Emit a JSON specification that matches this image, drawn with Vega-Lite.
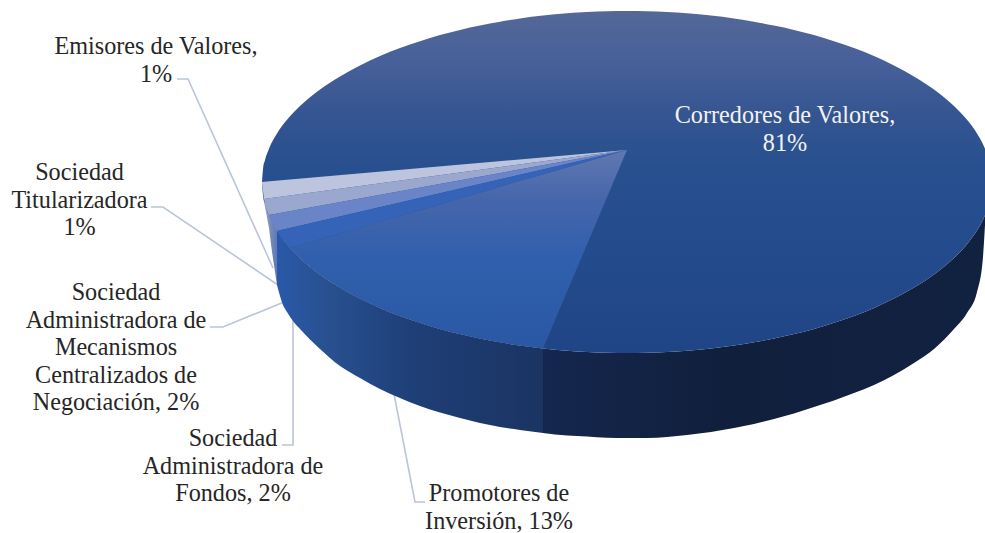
{"$schema":"https://vega.github.io/schema/vega-lite/v6.json","width":985,"height":533,"padding":0,"autosize":{"type":"none"},"background":"white","view":{"stroke":null},
"datasets":{
"leaders":[
{"k":"Emisores","seq":1,"x":177,"y":79},{"k":"Emisores","seq":2,"x":188,"y":79},{"k":"Emisores","seq":3,"x":273,"y":268},
{"k":"Titularizadora","seq":1,"x":151,"y":207},{"k":"Titularizadora","seq":2,"x":163,"y":207},{"k":"Titularizadora","seq":3,"x":278,"y":285},
{"k":"Mecanismos","seq":1,"x":210,"y":327},{"k":"Mecanismos","seq":2,"x":223,"y":327},{"k":"Mecanismos","seq":3,"x":284,"y":302},
{"k":"Fondos","seq":1,"x":282,"y":445},{"k":"Fondos","seq":2,"x":293,"y":445},{"k":"Fondos","seq":3,"x":293,"y":320},
{"k":"Promotores","seq":1,"x":425,"y":502},{"k":"Promotores","seq":2,"x":415,"y":502},{"k":"Promotores","seq":3,"x":394,"y":394}],
"walls":[
{"p":"sliver","x":262,"y":182,"y2":184},{"p":"sliver","x":263,"y":194.7,"y2":197},{"p":"sliver","x":265,"y":203.9,"y2":207},{"p":"sliver","x":269,"y":215.3,"y2":228},{"p":"sliver","x":272,"y":221.8,"y2":252},{"p":"sliver","x":277,"y":230.5,"y2":285},
{"p":"left","x":277,"y":230.5,"y2":285},{"p":"left","x":283,"y":239.2,"y2":305},{"p":"left","x":287,"y":244.2,"y2":312},{"p":"left","x":293,"y":251,"y2":321},{"p":"left","x":300,"y":258,"y2":329},{"p":"left","x":320,"y":274.5,"y2":349},{"p":"left","x":340,"y":287.6,"y2":366},{"p":"left","x":360,"y":298.6,"y2":378},{"p":"left","x":380,"y":307.9,"y2":389},{"p":"left","x":400,"y":315.9,"y2":398},{"p":"left","x":420,"y":322.8,"y2":406},{"p":"left","x":440,"y":328.9,"y2":412.5},{"p":"left","x":460,"y":334.1,"y2":418},{"p":"left","x":480,"y":338.5,"y2":423},{"p":"left","x":500,"y":342.3,"y2":427},{"p":"left","x":520,"y":345.5,"y2":430},{"p":"left","x":543,"y":348.4,"y2":433},
{"p":"right","x":543,"y":348.4,"y2":433},{"p":"right","x":567,"y":350.7,"y2":435.5},{"p":"right","x":587,"y":352,"y2":436.5},{"p":"right","x":607,"y":352.7,"y2":437.7},{"p":"right","x":627,"y":353,"y2":438},{"p":"right","x":647,"y":352.7,"y2":438},{"p":"right","x":667,"y":352,"y2":437},{"p":"right","x":687,"y":350.7,"y2":435},{"p":"right","x":711,"y":348.4,"y2":432},{"p":"right","x":734,"y":345.5,"y2":428},{"p":"right","x":754,"y":342.3,"y2":424},{"p":"right","x":774,"y":338.5,"y2":419},{"p":"right","x":794,"y":334.1,"y2":413.5},{"p":"right","x":814,"y":328.9,"y2":407},{"p":"right","x":834,"y":322.8,"y2":400.5},{"p":"right","x":854,"y":315.9,"y2":393},{"p":"right","x":874,"y":307.9,"y2":385},{"p":"right","x":894,"y":298.6,"y2":375},{"p":"right","x":914,"y":287.6,"y2":363},{"p":"right","x":934,"y":274.5,"y2":349},{"p":"right","x":954,"y":258,"y2":329},{"p":"right","x":967,"y":244.2,"y2":313},{"p":"right","x":977,"y":230.5,"y2":292},{"p":"right","x":983,"y":219.7,"y2":257},{"p":"right","x":985,"y":215.3,"y2":225}],
"face":[
{"x":262,"y":182,"y2":182},{"x":263,"y":169.3,"y2":194.7},{"x":265,"y":160.1,"y2":203.9},{"x":269,"y":148.7,"y2":215.3},{"x":277,"y":133.5,"y2":230.5},{"x":287,"y":119.8,"y2":244.2},{"x":300,"y":106,"y2":258},{"x":320,"y":89.5,"y2":274.5},{"x":340,"y":76.4,"y2":287.6},{"x":360,"y":65.4,"y2":298.6},{"x":380,"y":56.1,"y2":307.9},{"x":400,"y":48.1,"y2":315.9},{"x":420,"y":41.2,"y2":322.8},{"x":440,"y":35.1,"y2":328.9},{"x":460,"y":29.9,"y2":334.1},{"x":480,"y":25.5,"y2":338.5},{"x":500,"y":21.7,"y2":342.3},{"x":520,"y":18.5,"y2":345.5},{"x":543,"y":15.6,"y2":348.4},{"x":567,"y":13.3,"y2":350.7},{"x":587,"y":12,"y2":352},{"x":607,"y":11.3,"y2":352.7},{"x":627,"y":11,"y2":353},{"x":647,"y":11.3,"y2":352.7},{"x":667,"y":12,"y2":352},{"x":687,"y":13.3,"y2":350.7},{"x":711,"y":15.6,"y2":348.4},{"x":734,"y":18.5,"y2":345.5},{"x":754,"y":21.7,"y2":342.3},{"x":774,"y":25.5,"y2":338.5},{"x":794,"y":29.9,"y2":334.1},{"x":814,"y":35.1,"y2":328.9},{"x":834,"y":41.2,"y2":322.8},{"x":854,"y":48.1,"y2":315.9},{"x":874,"y":56.1,"y2":307.9},{"x":894,"y":65.4,"y2":298.6},{"x":914,"y":76.4,"y2":287.6},{"x":934,"y":89.5,"y2":274.5},{"x":954,"y":106,"y2":258},{"x":967,"y":119.8,"y2":244.2},{"x":977,"y":133.5,"y2":230.5},{"x":983,"y":144.3,"y2":219.7},{"x":985,"y":148.7,"y2":215.3}],
"slices":[
{"s":"Sociedad Titularizadora","x":262,"y":182,"y2":183},{"s":"Sociedad Titularizadora","x":264,"y":181.8,"y2":199},{"s":"Sociedad Titularizadora","x":627,"y":150,"y2":150},
{"s":"Emisores de Valores","x":264,"y":199,"y2":199},{"s":"Emisores de Valores","x":265.5,"y":198.8,"y2":207},{"s":"Emisores de Valores","x":269,"y":198.3,"y2":215},{"s":"Emisores de Valores","x":627,"y":150,"y2":150},
{"s":"Mecanismos","x":269,"y":215,"y2":215},{"s":"Mecanismos","x":272.5,"y":214.4,"y2":223.5},{"s":"Mecanismos","x":277,"y":213.5,"y2":231},{"s":"Mecanismos","x":627,"y":150,"y2":150},
{"s":"Fondos","x":277,"y":231,"y2":231},{"s":"Fondos","x":283,"y":229.6,"y2":240},{"s":"Fondos","x":290,"y":228,"y2":248},{"s":"Fondos","x":627,"y":150,"y2":150},
{"s":"Promotores","x":290,"y":248,"y2":248},{"s":"Promotores","x":300,"y":245.1,"y2":258},{"s":"Promotores","x":320,"y":239.3,"y2":274.5},{"s":"Promotores","x":340,"y":233.5,"y2":287.6},{"s":"Promotores","x":360,"y":227.6,"y2":298.6},{"s":"Promotores","x":380,"y":221.8,"y2":307.9},{"s":"Promotores","x":400,"y":216,"y2":315.9},{"s":"Promotores","x":420,"y":210.2,"y2":322.8},{"s":"Promotores","x":440,"y":204.4,"y2":328.9},{"s":"Promotores","x":460,"y":198.6,"y2":334.1},{"s":"Promotores","x":480,"y":192.7,"y2":338.5},{"s":"Promotores","x":500,"y":186.9,"y2":342.3},{"s":"Promotores","x":520,"y":181.1,"y2":345.5},{"s":"Promotores","x":543,"y":174.4,"y2":348.4},{"s":"Promotores","x":627,"y":150,"y2":150}],
"labels":[
{"category":"Emisores de Valores","share":1,"label":"Emisores de Valores,\n1%","x":156,"y":47,"tone":"dark"},
{"category":"Sociedad Titularizadora","share":1,"label":"Sociedad\nTitularizadora\n1%","x":79.5,"y":173,"tone":"dark"},
{"category":"Sociedad Administradora de Mecanismos Centralizados de Negociación","share":2,"label":"Sociedad\nAdministradora de\nMecanismos\nCentralizados de\nNegociación, 2%","x":116,"y":293,"tone":"dark"},
{"category":"Sociedad Administradora de Fondos","share":2,"label":"Sociedad\nAdministradora de\nFondos, 2%","x":233,"y":439,"tone":"dark"},
{"category":"Promotores de Inversión","share":13,"label":"Promotores de\nInversión, 13%","x":499,"y":494,"tone":"dark"},
{"category":"Corredores de Valores","share":81,"label":"Corredores de Valores,\n81%","x":785,"y":116,"tone":"light"}]
},
"encoding":{
"x":{"field":"x","type":"quantitative","scale":{"domain":[0,985],"nice":false,"zero":false},"axis":null},
"y":{"field":"y","type":"quantitative","scale":{"domain":[533,0],"nice":false,"zero":false},"axis":null}
},
"layer":[
{"data":{"name":"leaders"},"mark":{"type":"line","stroke":"#b9c6d8","strokeWidth":1.6,"interpolate":"linear"},"encoding":{"detail":{"field":"k"},"order":{"field":"seq","type":"quantitative"}}},
{"data":{"name":"walls"},"transform":[{"filter":"datum.p==='sliver'"}],"mark":{"type":"area","fill":{"gradient":"linear","x1":0,"y1":0,"x2":1,"y2":0,"stops":[{"offset":0,"color":"#c0c6d4"},{"offset":0.4,"color":"#8494bc"},{"offset":1,"color":"#5b78b8"}]}},"encoding":{"y2":{"field":"y2"}}},
{"data":{"name":"walls"},"transform":[{"filter":"datum.p==='left'"}],"mark":{"type":"area","interpolate":"monotone","fill":{"gradient":"linear","x1":0,"y1":0,"x2":1,"y2":0,"stops":[{"offset":0,"color":"#2a59a8"},{"offset":0.2,"color":"#28508f"},{"offset":0.5,"color":"#1f3f78"},{"offset":1,"color":"#1a3462"}]}},"encoding":{"y2":{"field":"y2"}}},
{"data":{"name":"walls"},"transform":[{"filter":"datum.p==='right'"}],"mark":{"type":"area","interpolate":"monotone","fill":{"gradient":"linear","x1":0,"y1":0,"x2":1,"y2":0,"stops":[{"offset":0,"color":"#15274f"},{"offset":0.4,"color":"#101f3c"},{"offset":1,"color":"#112240"}]}},"encoding":{"y2":{"field":"y2"}}},
{"data":{"name":"face"},"mark":{"type":"area","interpolate":"monotone","fill":{"gradient":"linear","x1":0,"y1":0,"x2":0,"y2":1,"stops":[{"offset":0,"color":"#546898"},{"offset":0.15,"color":"#47609a"},{"offset":0.3,"color":"#355591"},{"offset":0.45,"color":"#28508f"},{"offset":1,"color":"#1f4587"}]}},"encoding":{"y2":{"field":"y2"}}},
{"data":{"name":"slices"},"transform":[{"filter":"datum.s==='Sociedad Titularizadora'"}],"mark":{"type":"area","fill":"#bcc4de"},"encoding":{"y2":{"field":"y2"}}},
{"data":{"name":"slices"},"transform":[{"filter":"datum.s==='Emisores de Valores'"}],"mark":{"type":"area","fill":"#9aa8d0"},"encoding":{"y2":{"field":"y2"}}},
{"data":{"name":"slices"},"transform":[{"filter":"datum.s==='Mecanismos'"}],"mark":{"type":"area","fill":"#6a84c8"},"encoding":{"y2":{"field":"y2"}}},
{"data":{"name":"slices"},"transform":[{"filter":"datum.s==='Fondos'"}],"mark":{"type":"area","fill":"#3463b8"},"encoding":{"y2":{"field":"y2"}}},
{"data":{"name":"slices"},"transform":[{"filter":"datum.s==='Promotores'"}],"mark":{"type":"area","fill":{"gradient":"linear","x1":0,"y1":0,"x2":0,"y2":1,"stops":[{"offset":0,"color":"#6078b0"},{"offset":0.25,"color":"#4666ab"},{"offset":0.55,"color":"#305fad"},{"offset":1,"color":"#2a58a3"}]}},"encoding":{"y2":{"field":"y2"}}},
{"data":{"name":"labels"},"mark":{"type":"text","font":"Liberation Serif","fontSize":24.2,"lineHeight":27.6,"lineBreak":"\n","align":"center","baseline":"middle"},"encoding":{"text":{"field":"label"},"color":{"field":"tone","type":"nominal","scale":{"domain":["dark","light"],"range":["#262626","#f2f2f2"]},"legend":null}}}
]}
